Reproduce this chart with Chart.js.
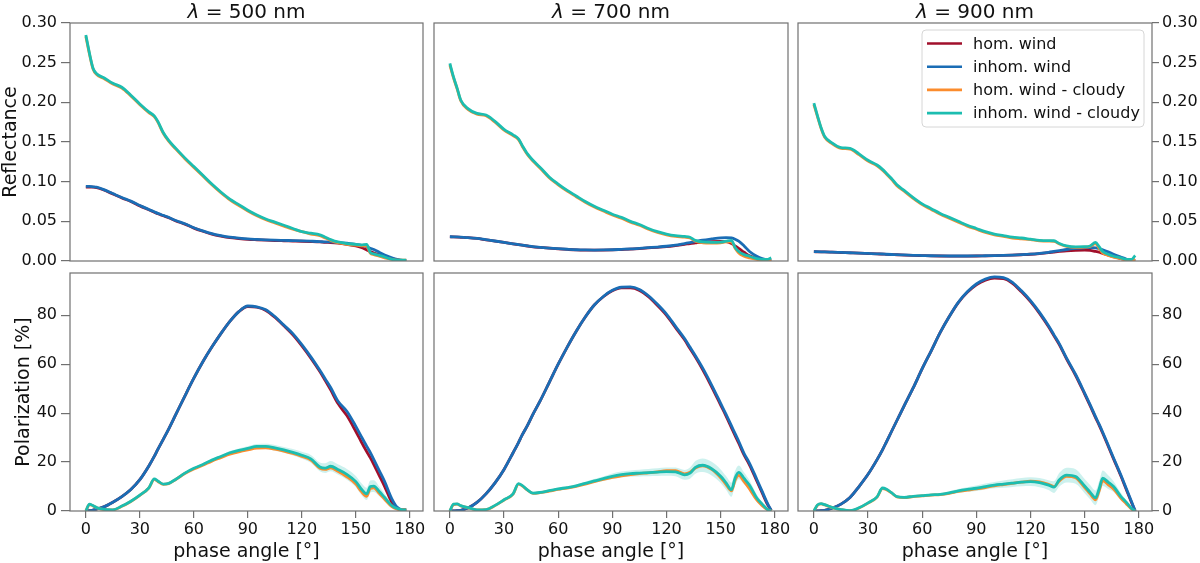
<!DOCTYPE html>
<html>
<head>
<meta charset="utf-8">
<title>Reflectance and polarization vs phase angle</title>
<script src="https://cdn.jsdelivr.net/npm/chart.js@4.4.1/dist/chart.umd.min.js"></script>
<style>
  body { margin: 0; background: #fff; width: 1200px; height: 563px; overflow: hidden; position: relative; }
  .panel { position: absolute; }
</style>
</head>
<body>
<div class="panel" id="box0"><canvas id="c0"></canvas></div>
<div class="panel" id="box1"><canvas id="c1"></canvas></div>
<div class="panel" id="box2"><canvas id="c2"></canvas></div>
<div class="panel" id="box3"><canvas id="c3"></canvas></div>
<div class="panel" id="box4"><canvas id="c4"></canvas></div>
<div class="panel" id="box5"><canvas id="c5"></canvas></div>
<script>
// phase angles (deg) the curves are sampled at
const angles = [0,2,4,6,10,15,20,25,30,35, 38,40,43,46,50,55,60,65,70,75, 80,85,90,95,100,105,110,115,120,125, 130,133,136,140,145,150,153,156,158,160, 163,166,170,173,176,178];

const seriesLabels = ['hom. wind', 'inhom. wind', 'hom. wind - cloudy', 'inhom. wind - cloudy'];
const seriesColors = ['#a10f2b', '#1a6db5', '#fb8c2d', '#1cbdb0'];
const bandColor = 'rgba(28,189,176,0.22)';

const wavelengths = ['500', '700', '900'];
const xTicks = [0, 30, 60, 90, 120, 150, 180];
const reflTicks = [0, 0.05, 0.10, 0.15, 0.20, 0.25, 0.30];
const polTicks = [0, 20, 40, 60, 80];

// ---- reflectance, 500 nm
const hom500R = [0.093,0.093,0.093,0.0925,0.0895,0.0845,0.0795,0.075,0.0695,0.0645, 0.0615,0.0595,0.057,0.0545,0.0505,0.0465,0.0415,0.0375,0.034,0.0315, 0.0295,0.0283,0.0273,0.0267,0.0262,0.0258,0.0255,0.0252,0.0249,0.0245, 0.024,0.0235,0.0232,0.0225,0.021,0.019,0.017,0.014,0.012,0.010, 0.008,0.006,0.003,0.0015,0.0005,0.0003];
const inhom500R = [0.094,0.094,0.0935,0.093,0.090,0.085,0.080,0.0755,0.070,0.065, 0.062,0.060,0.0575,0.055,0.051,0.047,0.042,0.038,0.0345,0.032, 0.030,0.0288,0.0278,0.0272,0.0267,0.0263,0.026,0.0257,0.0254,0.025, 0.0245,0.024,0.024,0.0235,0.0225,0.021,0.020,0.018,0.016,0.0145, 0.011,0.0075,0.004,0.002,0.0008,0.0005];
const homCloudy500R = [0.283,0.261,0.242,0.235,0.230,0.223,0.218,0.208,0.197,0.187, 0.182,0.175,0.161,0.151,0.141,0.129,0.118,0.107,0.096,0.086, 0.077,0.070,0.063,0.057,0.052,0.048,0.044,0.040,0.037,0.034, 0.032,0.029,0.026,0.023,0.021,0.020,0.019,0.019,0.010,0.008, 0.006,0.004,0.002,0.001,0.001,0.001];
const inhomCloudy500R = [0.285,0.262,0.243,0.236,0.231,0.224,0.219,0.209,0.198,0.188, 0.183,0.176,0.162,0.152,0.142,0.130,0.119,0.108,0.097,0.087, 0.078,0.071,0.064,0.058,0.053,0.049,0.045,0.041,0.037,0.035, 0.033,0.030,0.027,0.024,0.022,0.021,0.020,0.021,0.011,0.009, 0.007,0.005,0.002,0.001,0.001,0.001];

// ---- reflectance, 700 nm
const hom700R = [0.0305,0.0304,0.0302,0.0299,0.0294,0.0284,0.0267,0.0251,0.0234,0.0216, 0.0206,0.0199,0.0189,0.0179,0.0171,0.0162,0.0153,0.0146,0.014,0.0137, 0.0136,0.0137,0.014,0.0145,0.015,0.0157,0.0165,0.0173,0.0182,0.0195, 0.021,0.022,0.0228,0.0238,0.0245,0.0248,0.0245,0.022,0.019,0.016, 0.011,0.0065,0.003,0.0015,0.0008,0.0005];
const inhom700R = [0.0306,0.0305,0.0303,0.0300,0.0295,0.0285,0.0268,0.0252,0.0235,0.0217, 0.0207,0.020,0.019,0.018,0.0172,0.0163,0.0155,0.0148,0.0142,0.0139, 0.0138,0.0139,0.0142,0.0147,0.0152,0.016,0.0168,0.0176,0.0186,0.020, 0.022,0.0232,0.0245,0.0262,0.0278,0.0292,0.0295,0.029,0.0275,0.025, 0.019,0.012,0.006,0.003,0.0012,0.0008];
const homCloudy700R = [0.247,0.231,0.217,0.202,0.191,0.185,0.183,0.175,0.165,0.158, 0.153,0.145,0.134,0.126,0.117,0.105,0.096,0.088,0.081,0.074, 0.068,0.063,0.058,0.054,0.049,0.045,0.040,0.036,0.033,0.031, 0.030,0.029,0.025,0.023,0.0225,0.0228,0.024,0.024,0.016,0.010, 0.006,0.004,0.002,0.001,0.001,0.002];
const inhomCloudy700R = [0.249,0.232,0.218,0.203,0.192,0.186,0.184,0.176,0.166,0.159, 0.154,0.146,0.135,0.127,0.118,0.106,0.097,0.089,0.082,0.075, 0.069,0.064,0.059,0.055,0.050,0.046,0.041,0.037,0.034,0.032, 0.031,0.030,0.026,0.024,0.0235,0.0238,0.025,0.026,0.017,0.012, 0.008,0.006,0.003,0.002,0.002,0.004];

// ---- reflectance, 900 nm
const hom900R = [0.0117,0.0116,0.0115,0.0114,0.0111,0.0107,0.0103,0.0099,0.0094,0.0089, 0.0087,0.0084,0.0081,0.0079,0.0075,0.0071,0.0068,0.0065,0.0063,0.0062, 0.0062,0.0062,0.0063,0.0065,0.0067,0.007,0.0074,0.0079,0.0085,0.0094, 0.0105,0.0113,0.012,0.0128,0.0134,0.0137,0.0135,0.012,0.011,0.0095, 0.0075,0.0055,0.003,0.0015,0.0006,0.0004];
const inhom900R = [0.0118,0.0117,0.0116,0.0115,0.0112,0.0108,0.0104,0.010,0.0095,0.009, 0.0088,0.0085,0.0082,0.008,0.0076,0.0072,0.0069,0.0066,0.0064,0.0063, 0.0063,0.0063,0.0064,0.0066,0.0068,0.0071,0.0075,0.008,0.0087,0.0097, 0.011,0.012,0.013,0.0145,0.0158,0.0167,0.017,0.0165,0.0155,0.014, 0.0115,0.0085,0.005,0.0025,0.001,0.0008];
const homCloudy900R = [0.197,0.182,0.167,0.156,0.148,0.142,0.141,0.134,0.126,0.120, 0.1145,0.110,0.103,0.095,0.088,0.079,0.071,0.065,0.059,0.054, 0.049,0.044,0.040,0.036,0.033,0.031,0.029,0.028,0.027,0.0255, 0.025,0.0248,0.0215,0.0185,0.0172,0.0175,0.0185,0.022,0.016,0.010, 0.007,0.005,0.003,0.0015,0.001,0.002];
const inhomCloudy900R = [0.199,0.183,0.168,0.157,0.149,0.143,0.142,0.135,0.127,0.121, 0.1155,0.111,0.104,0.096,0.089,0.080,0.072,0.066,0.060,0.055, 0.050,0.045,0.041,0.037,0.034,0.032,0.030,0.029,0.0275,0.026, 0.0256,0.0255,0.022,0.019,0.0178,0.018,0.019,0.0235,0.018,0.012, 0.0085,0.006,0.004,0.002,0.002,0.007];

// ---- polarization [%], 500 nm
const hom500P = [0,0.1,0.4,0.8,1.7,3.6,5.9,8.8,12.8,18.4, 22.3,25.2,29.3,33.5,39.5,47,54.3,61,67,72.5, 77.5,81.5,83.6,83.3,82,79.2,75.7,72,67.5,62.5, 57,53.3,49.5,44,39,32.5,28.3,24.3,21.8,19, 14.5,10,3.5,1,0.5,0.5];
const inhom500P = [0,0.1,0.4,0.8,1.7,3.6,5.9,8.8,12.8,18.4, 22.3,25.2,29.3,33.5,39.5,47,54.3,61,67,72.5, 77.5,81.5,83.8,83.5,82.3,79.5,76,72.5,68,63, 57.5,54,50.5,45,40.8,34.6,30.5,26.5,24,21, 16.5,12,5,1.5,0.5,0.5];
const homCloudy500P = [0,2.6,2.1,1.3,0.6,0.5,1.9,3.9,6.4,9.4, 12.9,12.1,10.9,11.2,12.9,15.3,17.2,18.7,20.4,21.8, 23.2,24.2,25,25.7,25.8,25.3,24.5,23.5,22.3,20.8, 17.5,17,17.6,16.2,14,11,8,6,9.2,9.5, 7.2,4.8,1.8,0.8,0.5,0.5];
const inhomCloudy500P = [0,2.8,2.2,1.4,0.7,0.5,2,4,6.5,9.5, 13.1,12.3,11,11.3,13,15.5,17.5,19,20.8,22.3, 23.8,24.8,25.6,26.4,26.4,25.8,25,24,22.8,21.3, 18,17.5,18.3,17,15,12,9,7,10,10.2, 8,5.5,2.2,1,0.5,0.5];
const spread500P = [0.2,0.3,0.3,0.3,0.3,0.3,0.3,0.3,0.3,0.3, 0.4,0.4,0.4,0.4,0.4,0.4,0.4,0.5,0.5,0.6, 0.7,0.8,0.9,1.0,1.1,1.2,1.2,1.3,1.4,1.6, 1.8,2.0,2.1,2.1,2.2,2.3,2.4,2.5,2.5,2.4, 2.0,1.6,1.0,0.6,0.3,0.2];

// ---- polarization [%], 700 nm
const hom700P = [0,0,0.1,0.3,1.2,3.5,7,11.5,17,23.8, 28,31,35,39.5,45,52.5,60,67,73.5,79.3, 84.2,87.6,90,91.2,91.2,90.2,87.6,84,80,75, 70,66.4,62.9,57.8,50.8,43.3,38.8,34,30.8,27.7, 22.8,18.8,12.3,7.4,2.6,0.2];
const inhom700P = [0,0,0.1,0.3,1.2,3.5,7,11.5,17,23.8, 28,31,35,39.5,45,52.5,60,67,73.5,79.3, 84.2,87.7,90.2,91.5,91.6,90.6,88,84.5,80.5,75.5, 70.5,67,63.5,58.5,51.5,44,39.5,34.8,31.6,28.5, 23.5,19.5,13,8,3,0.3];
const homCloudy700P = [0,2.6,2.8,2.1,1.3,0.5,0.6,2.2,4.5,6.9, 11,10.3,8.5,7.2,7.5,8.1,8.8,9.4,10.1,11, 12,12.9,13.7,14.4,14.9,15.3,15.6,16,16.5,16.5, 15.2,15.8,17.6,18.5,17,13.6,10.8,8.2,12.6,14.6, 12,9,4.5,2.2,0.5,0];
const inhomCloudy700P = [0,2.8,2.9,2.2,1.4,0.5,0.6,2.3,4.6,7, 11.2,10.5,8.6,7.3,7.6,8.3,9,9.6,10.3,11.3, 12.3,13.2,14.2,14.9,15.3,15.5,15.7,15.9,16.1,16, 14.8,15.5,17.8,18.7,17.3,14.2,11.5,8.7,13.5,15.8, 13.3,10.5,5.3,2.8,0.6,0];
const spread700P = [0.2,0.3,0.3,0.3,0.3,0.3,0.3,0.3,0.3,0.3, 0.4,0.4,0.4,0.4,0.4,0.4,0.4,0.5,0.6,0.7, 0.8,0.9,1.1,1.2,1.3,1.4,1.5,1.6,1.7,1.8, 2.0,2.3,2.6,2.8,2.8,2.8,2.8,2.9,3.0,2.8, 2.4,2.0,1.4,0.8,0.4,0.2];

// ---- polarization [%], 900 nm
const hom900P = [0,0,0.1,0.3,1.1,2.8,5.5,10,15,21, 25,28,32.5,37,43,50.3,58.2,65.5,73,79.5, 85.2,89.4,92.5,94.4,95.2,95,93.1,89.6,85.6,80.8, 75.3,71.6,67.9,62.1,55.4,47.8,43.1,38.2,35.1,31.8, 26.6,21.3,14.4,8.9,3.4,0];
const inhom900P = [0,0,0.1,0.3,1.1,2.8,5.5,10,15,21, 25,28,32.5,37,43,50.3,58.2,65.5,73,79.5, 85.3,89.6,92.8,94.8,95.7,95.4,93.5,90,86,81.2, 75.7,72,68.3,62.5,55.8,48.2,43.5,38.6,35.5,32.2, 27,21.7,14.8,9.3,3.8,0];
const homCloudy900P = [0,2.4,2.9,2.5,1.4,0.6,0.1,1.2,3.2,5.7, 9.2,8.8,7.4,5.8,5.5,5.9,6.2,6.5,6.7,7.2, 8,8.5,9,9.6,10.3,10.8,11.3,11.8,12.2,11.9, 10.9,10,12.3,14.2,13.6,9.6,7,4.6,8.2,12.4, 10.8,9,5.3,3,0.8,0];
const inhomCloudy900P = [0,2.5,3,2.6,1.5,0.6,0.1,1.3,3.3,5.8, 9.4,9,7.5,5.9,5.6,6,6.3,6.6,6.8,7.4, 8.2,8.8,9.3,10,10.6,11,11.4,11.8,12,11.6, 10.6,9.8,12.8,14.7,14.1,10.2,7.7,5.4,9,13.4, 11.8,10,6,3.6,1,0];
const spread900P = [0.2,0.3,0.3,0.3,0.3,0.3,0.3,0.3,0.3,0.3, 0.4,0.4,0.4,0.4,0.4,0.4,0.4,0.5,0.6,0.7, 0.8,0.9,1.1,1.2,1.3,1.5,1.6,1.7,1.8,1.9, 2.0,2.4,2.8,3.0,3.0,2.9,2.9,3.0,3.2,3.2, 2.8,2.2,1.5,0.9,0.4,0.2];

Chart.defaults.font.family = 'DejaVu Sans';
Chart.defaults.color = '#111';

const axisGrey = '#707070';
const pts = ys => angles.map((a, i) => ({x: a, y: ys[i]}));

// panel frame on all four sides
const framePlugin = {
    id: 'frame',
    afterDatasetsDraw(chart) {
        const a = chart.chartArea, ctx = chart.ctx;
        ctx.save();
        ctx.strokeStyle = axisGrey;
        ctx.lineWidth = 1.2;
        ctx.strokeRect(a.left, a.top, a.right - a.left, a.bottom - a.top);
        ctx.restore();
    }
};

// panel title with an italic lambda, centred over the plot area
const lambdaTitle = {
    id: 'lambdaTitle',
    afterDraw(chart, args, opts) {
        if (!opts.text) return;
        const a = chart.chartArea, ctx = chart.ctx;
        ctx.save();
        ctx.fillStyle = '#111';
        ctx.textBaseline = 'alphabetic';
        ctx.font = 'oblique 20px "DejaVu Sans"';
        const lam = 'λ';
        const wLam = ctx.measureText(lam).width;
        ctx.font = '20px "DejaVu Sans"';
        const rest = ' = ' + opts.text;
        const wRest = ctx.measureText(rest).width;
        const x0 = (a.left + a.right) / 2 - (wLam + wRest) / 2;
        ctx.font = 'oblique 20px "DejaVu Sans"';
        ctx.fillText(lam, x0, a.top - 5.5);
        ctx.font = '20px "DejaVu Sans"';
        ctx.fillText(rest, x0 + wLam, a.top - 5.5);
        ctx.restore();
    }
};

// matplotlib-like legend box in the upper right corner
const boxLegend = {
    id: 'boxLegend',
    afterDraw(chart, args, opts) {
        if (!opts.show) return;
        const a = chart.chartArea, ctx = chart.ctx;
        const w = 222, h = 97;
        const left = a.right - 8 - w, top = a.top + 7;
        ctx.save();
        ctx.beginPath();
        ctx.roundRect(left, top, w, h, 4);
        ctx.fillStyle = 'rgba(255,255,255,0.85)';
        ctx.fill();
        ctx.strokeStyle = '#d6d6d6';
        ctx.lineWidth = 1;
        ctx.stroke();
        ctx.font = '16px "DejaVu Sans"';
        ctx.textBaseline = 'middle';
        seriesLabels.forEach((label, i) => {
            const y = top + 13.5 + i * 23.2;
            ctx.strokeStyle = seriesColors[i];
            ctx.lineWidth = 2.6;
            ctx.beginPath();
            ctx.moveTo(left + 5, y);
            ctx.lineTo(left + 40, y);
            ctx.stroke();
            ctx.fillStyle = '#111';
            ctx.fillText(label, left + 51, y + 1);
        });
        ctx.restore();
    }
};

const refl = {
    500: [hom500R, inhom500R, homCloudy500R, inhomCloudy500R],
    700: [hom700R, inhom700R, homCloudy700R, inhomCloudy700R],
    900: [hom900R, inhom900R, homCloudy900R, inhomCloudy900R]
};
const pol = {
    500: [hom500P, inhom500P, homCloudy500P, inhomCloudy500P],
    700: [hom700P, inhom700P, homCloudy700P, inhomCloudy700P],
    900: [hom900P, inhom900P, homCloudy900P, inhomCloudy900P]
};
const spreads = {500: spread500P, 700: spread700P, 900: spread900P};

// plot areas in page pixels
const colArea = [[70, 423], [434, 788], [798, 1152]];

function makePanel(row, col) {
    const wl = wavelengths[col];
    const top = row === 0;
    const idx = row * 3 + col;
    const series = top ? refl[wl] : pol[wl];

    // canvas box around plot area
    let left, yWidth = 0, padL = 4, padR = 6;
    if (col === 0) { left = top ? 0 : 13; yWidth = colArea[0][0] - left; padL = 0; }
    else if (col === 1) { left = colArea[1][0] - 4; }
    else { left = colArea[2][0] - 4; yWidth = 1200 - colArea[2][1]; padR = 0; }
    const right = col === 2 ? 1200 : colArea[col][1] + padR;
    const canvasTop = top ? 0 : 259;
    const canvasH = top ? 275 : 563 - 259;

    const box = document.getElementById('box' + idx);
    box.style.left = left + 'px';
    box.style.top = canvasTop + 'px';
    box.style.width = (right - left) + 'px';
    box.style.height = canvasH + 'px';

    const datasets = series.map((ys, i) => ({
        label: seriesLabels[i],
        data: pts(ys),
        borderColor: seriesColors[i],
        backgroundColor: seriesColors[i],
        borderWidth: 2.8,
        pointRadius: 0,
        fill: false,
        cubicInterpolationMode: 'monotone',
        order: 4 - i
    }));
    if (!top) {
        const c = series[3], s = spreads[wl];
        datasets.push({label: 'band lo', data: pts(c.map((v, i) => Math.max(0, v - s[i]))), borderWidth: 0,
            pointRadius: 0, fill: false, cubicInterpolationMode: 'monotone', order: 6});
        datasets.push({label: 'band hi', data: pts(c.map((v, i) => v + s[i])), borderWidth: 0,
            pointRadius: 0, fill: '-1', backgroundColor: bandColor, cubicInterpolationMode: 'monotone', order: 5});
    }

    const yScale = {
        type: 'linear',
        min: 0,
        max: top ? 0.30 : 97.3,
        display: col !== 1,
        position: col === 2 ? 'right' : 'left',
        afterBuildTicks: s => { s.ticks = (top ? reflTicks : polTicks).map(v => ({value: v})); },
        afterFit: s => { s.width = yWidth; s.paddingTop = 0; s.paddingBottom = 0; },
        grid: {display: true, drawOnChartArea: false, drawTicks: true, tickLength: col === 2 ? 7 : 9, color: axisGrey, lineWidth: 1.2},
        border: {display: false},
        ticks: {
            font: {size: 16},
            color: '#111',
            padding: col === 2 ? 3 : 4,
            callback: v => top ? v.toFixed(2) : String(v)
        },
        title: {
            display: col === 0,
            text: top ? 'Reflectance' : 'Polarization [%]',
            font: {size: 19},
            color: '#111',
            padding: 0
        }
    };

    const xScale = {
        type: 'linear',
        min: -8.8,
        max: 187.3,
        display: !top,
        afterBuildTicks: s => { s.ticks = xTicks.map(v => ({value: v})); },
        afterFit: s => { s.height = top ? 0 : 52; s.paddingLeft = 0; s.paddingRight = 0; },
        grid: {display: true, drawOnChartArea: false, drawTicks: true, tickLength: 7, color: axisGrey, lineWidth: 1.2},
        border: {display: false},
        ticks: {font: {size: 16}, color: '#111', padding: 2, maxRotation: 0},
        title: {display: true, text: 'phase angle [°]', font: {size: 19}, color: '#111', padding: 0}
    };

    new Chart(document.getElementById('c' + idx), {
        type: 'line',
        data: {datasets: datasets},
        options: {
            responsive: true,
            maintainAspectRatio: false,
            animation: false,
            layout: {padding: {top: top ? 23 : 14, bottom: top ? 14 : 0, left: padL, right: padR}},
            scales: {x: xScale, y: yScale},
            plugins: {
                legend: {display: false},
                tooltip: {enabled: false},
                lambdaTitle: {text: top ? wl + ' nm' : ''},
                boxLegend: {show: top && col === 2}
            }
        },
        plugins: [framePlugin, lambdaTitle, boxLegend]
    });
}

for (let row = 0; row < 2; row++) {
    for (let col = 0; col < 3; col++) {
        makePanel(row, col);
    }
}
</script>
</body>
</html>
